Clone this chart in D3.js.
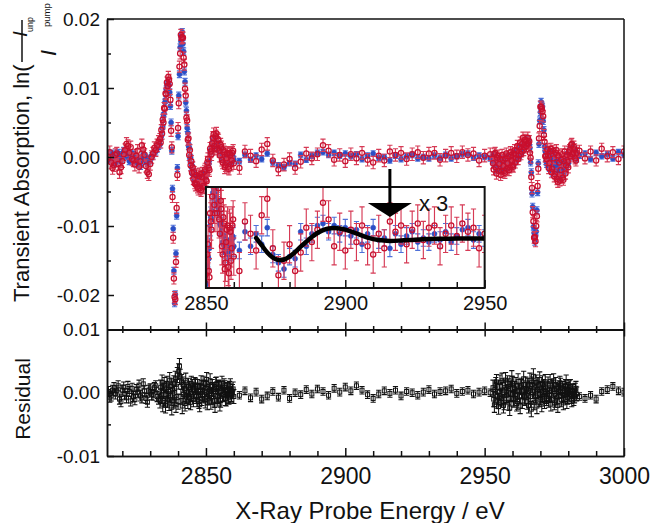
<!DOCTYPE html>
<html><head><meta charset="utf-8">
<script src="https://cdn.jsdelivr.net/npm/d3@7"></script>
<style>body{margin:0;background:#fff}svg{display:block;font-family:"Liberation Sans",Arial,sans-serif}</style>
</head><body><svg id="c" width="653" height="523"></svg>
<script>
// ---------- DATA (values in units of 1e-3) ----------
// energy sampling segments: [start eV, step eV, count]
const segments = [[2815,0.5,37],[2833.5,0.25,51],[2846.25,0.25,56],[2862,2,46],[2953,0.25,49],[2965.25,0.25,28],[2972.25,0.25,44],[2984,2,9]];
const blueValues = [
 0.3,-0.4,-0.2,0.5,-0.5,-0.9,0.2,0.6,-0.3,-0.7,0.3,0.9,0.8,0.1,0.2,-0.6,-0.4,0.5,0.3,-0.2,-0.8,-0.3,-1.0,-1.3,-0.4,0.4,0.1,-0.6,-0.9,-0.2,-0.5,0.1,0.2,0.6,0.8,1.2,1.6,
 1.8,2.9,3.0,4.2,4.5,5.9,6.3,7.9,8.3,9.8,9.9,10.5,10.8,10.4,9.4,7.4,5.0,0.9,-4.6,-10.4,-16.5,-21.2,-19.9,-14.0,-8.5,-1.6,3.0,8.9,12.0,15.9,16.8,17.6,18.1,16.4,15.3,12.4,10.9,7.9,6.7,4.2,3.5,1.6,1.4,-0.2,-0.1,-1.5,-1.2,-2.5,-2.2,-3.1,-2.8,
 -3.4,-3.0,-3.6,-3.8,-3.1,-3.3,-3.9,-4.0,-3.5,-3.3,-3.2,-3.7,-3.6,-2.7,-2.4,-2.8,-2.2,-1.3,-0.9,-1.0,-0.5,0.6,1.0,0.9,1.3,2.2,2.4,2.0,2.1,2.6,2.4,1.7,1.5,1.8,1.4,0.7,0.6,0.8,0.5,-0.2,-0.3,0.1,-0.5,-0.7,-0.3,-0.2,-0.6,-0.8,-0.5,-0.1,-0.3,-0.6,-0.4,0.1,0.0,-0.4,
 -0.6,0.3,-0.4,0.2,-0.3,0.5,-0.8,-1.2,-1.5,-0.9,-1.0,0.3,-0.4,0.2,0.6,0.7,0.3,0.6,0.2,0.5,0.1,0.4,-0.3,0.2,0.5,-0.1,0.0,-0.5,0.2,-0.3,0.1,0.3,-0.2,0.0,-0.2,0.2,-0.1,0.3,-0.2,0.1,0.4,0.5,-0.1,0.2,0.0,-0.2,
 0.2,-0.8,-1.0,0.1,-0.2,-1.9,-1.5,-0.2,-0.5,-1.2,-1.7,-0.9,-0.6,-0.3,-1.6,-1.9,-0.4,-0.7,-1.4,0.1,-0.3,-1.5,-1.2,-0.5,0.0,-1.0,-0.9,0.4,0.2,-1.2,-0.6,0.0,0.5,-0.6,-0.2,0.6,0.9,0.0,0.3,1.1,1.4,0.6,1.0,1.7,2.0,1.3,1.6,2.2,2.4,
 2.6,2.1,2.6,1.6,1.3,-0.8,-2.2,-5.3,-7.2,-10.1,-11.0,-12.3,-11.5,-10.8,-7.7,-5.1,-0.9,1.9,5.3,6.5,8.0,7.5,7.3,5.2,3.9,1.5,0.8,-0.6,
 -1.0,0.4,0.9,-0.5,-1.6,0.6,0.7,-1.2,-2.3,-0.3,0.2,-2.0,-1.5,-0.9,-0.6,-2.6,-2.2,-1.4,-0.3,-2.9,-3.1,-1.6,-0.8,-2.8,-2.4,-0.9,-1.1,-2.0,-1.6,-0.2,0.3,-0.9,-0.4,0.8,1.2,0.3,0.5,1.6,1.3,0.6,0.2,0.9,0.5,-0.2,
 0.2,0.5,-0.3,0.6,0.1,0.4,-0.2,0.7,0.3];
const redValues = [
 0.0,0.7,-0.8,-1.6,-1.2,0.3,0.5,-1.0,-2.2,-1.5,-0.6,0.4,1.0,1.9,1.6,0.6,1.4,-0.3,-0.5,-1.1,0.2,0.9,-1.4,-0.6,1.7,1.1,0.3,-1.3,-2.2,-2.5,-1.0,0.0,0.5,1.3,1.0,1.7,2.2,
 2.6,2.1,3.9,3.4,5.4,5.0,7.1,7.0,9.2,9.1,10.8,10.3,11.6,11.2,10.6,8.3,3.8,1.4,-5.8,-11.7,-17.6,-20.3,-20.6,-15.2,-7.4,-2.6,4.2,7.8,13.1,15.0,17.7,17.2,17.4,17.3,14.4,13.4,9.9,8.9,5.7,5.3,2.5,2.7,0.3,1.0,-1.2,-0.6,-2.3,-1.5,-3.2,-2.2,-3.8,
 -4.0,-2.6,-3.9,-4.3,-4.6,-2.8,-2.5,-4.5,-4.8,-2.9,-2.4,-4.2,-4.4,-2.1,-1.8,-3.3,-3.5,-0.8,-0.3,-1.6,-1.9,1.2,0.8,0.4,2.0,2.8,3.3,1.6,1.2,3.0,3.4,1.2,2.6,2.4,0.9,0.2,1.8,1.4,-0.4,-0.8,1.0,0.7,-1.5,-1.2,-0.2,0.4,0.6,-1.4,-1.7,0.5,0.3,-1.1,-0.5,0.6,0.9,-0.9,
 -1.6,0.8,0.2,-0.6,1.1,1.9,-0.5,-1.8,-1.1,-0.3,-1.6,-0.7,0.5,-0.2,0.4,1.7,0.9,-0.4,0.3,-0.6,0.4,-0.2,0.6,-0.4,-0.8,0.2,-0.5,0.8,0.3,0.6,-0.3,0.4,0.7,-0.1,0.5,0.6,-0.4,0.2,0.6,0.1,0.7,0.3,0.5,-0.5,0.2,0.4,
 -0.9,-1.8,0.4,0.6,-1.5,-2.4,-0.1,0.2,-2.0,-1.0,-0.3,-2.6,-2.1,0.3,-0.4,-1.3,-2.0,-2.3,-0.2,0.5,-1.7,-0.9,0.1,-1.9,-1.5,0.7,0.3,-0.6,-1.2,-1.4,0.5,1.0,-0.8,-0.2,0.9,1.6,-0.3,0.2,1.4,2.1,0.4,0.8,1.9,2.8,1.0,1.4,2.5,2.3,1.6,
 1.9,2.8,2.0,2.3,0.6,-0.1,-2.9,-4.5,-8.0,-9.3,-11.7,-11.6,-12.2,-10.0,-8.6,-4.2,-1.7,2.7,4.5,7.3,7.3,7.0,6.6,5.9,3.2,2.2,0.1,0.2,
 -0.3,1.1,0.2,-1.6,-0.9,0.8,1.2,-2.2,-1.7,0.9,-0.2,-2.8,-2.5,0.6,1.0,-3.2,-3.6,0.2,-0.8,-3.4,-1.9,-0.4,0.4,-3.0,-3.3,-0.6,0.8,-2.4,-1.2,0.3,-0.7,-1.5,0.7,1.0,0.1,1.7,1.9,0.4,0.6,1.5,1.1,-0.2,-0.5,0.6,
 0.9,-0.2,0.8,-0.5,1.2,0.1,0.7,-0.3,0.8];
const residualValues = [
 0.2,-0.7,-0.5,0.4,0.8,-0.2,0.3,1.1,-1.0,-1.4,0.4,0.9,-0.2,-0.8,1.0,0.2,-1.3,0.7,-0.6,-1.1,0.5,0.1,1.2,-0.5,-0.8,1.4,0.3,-0.9,-1.5,0.4,0.6,-0.3,-0.4,0.8,1.1,-0.6,-1.0,
 -1.2,0.8,-0.5,1.6,-1.8,0.3,1.2,-0.9,-2.0,0.6,1.4,-1.1,0.2,-1.6,2.0,-0.4,1.0,-2.3,0.5,-1.2,1.5,-0.8,2.2,-1.9,0.9,2.8,-1.4,3.4,4.2,2.5,-0.6,1.7,-2.1,1.3,-0.3,0.7,-1.7,1.9,-0.5,0.1,-1.3,1.1,-0.7,0.6,-1.5,1.4,-0.2,0.9,-1.0,0.3,1.2,
 1.2,-0.6,-1.1,1.0,0.3,-1.4,-1.9,0.4,1.6,-0.9,-0.4,1.5,0.9,-0.3,-1.3,0.8,2.1,-1.6,-0.8,0.2,0.4,1.9,-1.5,-0.7,1.0,0.5,0.2,-1.2,-2.0,1.3,1.4,-0.4,-0.6,0.9,0.7,-1.8,-1.2,0.6,1.5,-0.2,-0.3,1.1,0.8,-0.9,-1.0,0.4,0.5,-0.5,-0.7,0.7,1.1,-0.3,-0.4,0.2,0.6,-0.6,
 -0.4,0.3,-0.8,0.1,-1.0,-0.5,0.2,-0.7,0.4,-0.9,0.0,-0.3,0.5,-0.2,0.6,0.2,-0.4,0.7,0.1,0.9,0.3,1.1,0.4,-0.3,-0.9,-0.2,0.3,-0.1,0.4,-0.5,0.2,0.0,-0.4,0.1,0.5,-0.2,0.2,0.3,0.6,-0.1,0.2,0.4,-0.2,0.1,0.3,0.0,
 0.8,-1.0,-1.9,0.5,1.2,1.7,-0.6,-1.3,-2.2,0.2,1.6,-0.7,-0.9,1.9,0.4,-2.0,-1.5,0.8,2.0,-0.4,-0.3,1.5,1.0,-1.6,-2.4,-0.2,0.6,2.3,1.4,-0.9,-1.1,0.6,0.2,1.2,-1.7,-1.4,1.8,0.3,-0.5,-2.1,0.9,1.1,-1.3,0.4,2.2,-0.6,-0.8,1.3,0.5,
 -1.4,1.1,-2.0,0.7,1.9,-0.6,-2.6,1.3,0.3,2.6,-1.5,0.8,-0.4,1.6,-2.1,0.5,1.2,-1.0,2.1,-0.7,0.4,-1.8,1.5,-0.2,0.9,-1.3,1.7,-0.5,
 -0.9,0.6,1.4,-1.2,-0.3,1.8,-1.8,-0.4,0.6,0.9,1.9,-1.6,-1.2,1.3,0.4,-0.8,-2.0,0.2,0.8,1.5,1.2,-1.1,-0.5,0.7,-1.6,-0.3,0.3,1.0,1.7,-1.4,-0.7,0.5,-0.2,0.8,1.0,-0.6,-1.1,0.3,0.2,-0.9,-0.5,0.4,0.7,-0.2,
 -0.6,-0.9,-0.4,-1.0,0.2,0.5,1.0,0.3,0.1];
// error bar half-widths per segment
const blueErr = [0.5,0.5,0.5,0.4,0.5,0.5,0.5,0.4];
const redErr = [0.9,0.8,0.9,0.9,0.8,0.8,0.8,0.8];
const resErr = [0.8,1.2,1.1,0.6,1.2,1.2,1.1,0.6];
// fit curve shown in inset
const fitEnergy = [2868,2870,2872,2874,2876,2878,2880,2882,2884,2886,2888,2890,2892,2894,2896,2898,2900,2904,2908,2912,2916,2920,2925,2930,2935,2940,2945,2950];
const fitValues = [0,-0.35,-0.7,-0.95,-1.06,-1.04,-0.9,-0.68,-0.42,-0.18,0.05,0.24,0.38,0.46,0.48,0.46,0.4,0.22,0.02,-0.1,-0.14,-0.12,-0.08,-0.05,-0.04,-0.03,-0.02,-0.02];
const insetFactor = 3;
const arrowEnergy = 2916;
const xDomain = [2814.5, 3000];
const xMajor = [2850,2900,2950,3000];
const xMinor = [2820,2830,2840,2860,2870,2880,2890,2910,2920,2930,2940,2960,2970,2980,2990];
const mainYTicks = [-20,-10,0,10,20];
const mainYMinor = [-15,-5,5,15];
const resYTicks = [-10,0,10];
const resYMinor = [-5,5];
const insetXTicks = [2850,2900,2950];
const insetXMinor = [2860,2870,2880,2890,2910,2920,2930,2940];

// ---------- BUILD ----------
const energy = [], bE = [], rE = [], resE = [];
segments.forEach(([s, st, n], k) => {
  for (let i = 0; i < n; i++) { energy.push(+(s + i * st).toFixed(2)); bE.push(blueErr[k]); rE.push(redErr[k]); resE.push(resErr[k]); }
});
const blue = energy.map((e, i) => ({e, v: blueValues[i], err: bE[i]}));
const red = energy.map((e, i) => ({e, v: redValues[i], err: rE[i]}));
const resid = energy.map((e, i) => ({e, v: residualValues[i], err: resE[i]}));

const svg = d3.select("#c");
const x = d3.scaleLinear().domain(xDomain).range([107, 624]);
const yMain = d3.scaleLinear().domain([-25, 20]).range([329.5, 19]);
const yRes = d3.scaleLinear().domain([-10, 10]).range([456, 329.5]);
const yInset = d3.scaleLinear().domain([-7.25, 7.39]).range([288, 187]);
const fmt = v => (v / 1000).toFixed(2);

const defs = svg.append("defs");
defs.append("clipPath").attr("id", "cm").append("rect").attr("x", 107).attr("y", 19).attr("width", 517).attr("height", 310.5);
defs.append("clipPath").attr("id", "cr").append("rect").attr("x", 107).attr("y", 329.5).attr("width", 517).attr("height", 126.5);

function errPath(data, ys, f, cap) {
  let p = "";
  data.forEach(d => {
    const X = x(d.e), y1 = ys((d.v - d.err) * f), y2 = ys((d.v + d.err) * f);
    p += `M${X},${y1}V${y2}M${X - cap},${y1}h${2 * cap}M${X - cap},${y2}h${2 * cap}`;
  });
  return p;
}
function drawSeries(g, data, ys, f, kind) {
  if (kind === "blue") {
    g.append("path").attr("d", errPath(data, ys, f, 2.6)).attr("fill", "none").attr("stroke", "#4f70d8").attr("stroke-width", 1.1);
    g.selectAll(null).data(data).join("circle").attr("cx", d => x(d.e)).attr("cy", d => ys(d.v * f)).attr("r", 2.5)
      .attr("fill", "#2b4fc6").attr("stroke", "#2b4fc6").attr("stroke-width", 0.6);
  } else if (kind === "red") {
    g.append("path").attr("d", errPath(data, ys, f, 2.6)).attr("fill", "none").attr("stroke", "#d63a55").attr("stroke-width", 1.15);
    g.selectAll(null).data(data).join("circle").attr("cx", d => x(d.e)).attr("cy", d => ys(d.v * f)).attr("r", 2.6)
      .attr("fill", "none").attr("stroke", "#c80f2e").attr("stroke-width", 1.25);
  } else {
    g.append("path").attr("d", errPath(data, ys, f, 2.6)).attr("fill", "none").attr("stroke", "#111").attr("stroke-width", 1.05);
    g.selectAll(null).data(data).join("rect").attr("x", d => x(d.e) - 2).attr("y", d => ys(d.v * f) - 2).attr("width", 4).attr("height", 4)
      .attr("fill", "none").attr("stroke", "#111").attr("stroke-width", 1);
  }
}
// main data
const gm = svg.append("g").attr("clip-path", "url(#cm)");
drawSeries(gm, blue, yMain, 1, "blue");
drawSeries(gm, red, yMain, 1, "red");
// residual data
const gr = svg.append("g").attr("clip-path", "url(#cr)");
drawSeries(gr, resid, yRes, 1, "res");

// inset
const ix0 = x(2850), ix1 = x(2950);
defs.append("clipPath").attr("id", "ci").append("rect").attr("x", ix0).attr("y", 187).attr("width", ix1 - ix0).attr("height", 101);
svg.append("rect").attr("x", ix0).attr("y", 187).attr("width", ix1 - ix0).attr("height", 101).attr("fill", "#fff");
const gi = svg.append("g").attr("clip-path", "url(#ci)");
const inBlue = blue.filter(d => d.e >= 2849 && d.e <= 2951), inRed = red.filter(d => d.e >= 2849 && d.e <= 2951);
drawSeries(gi, inBlue, yInset, insetFactor, "blue");
drawSeries(gi, inRed, yInset, insetFactor, "red");
gi.append("path").datum(fitEnergy.map((e, i) => [e, fitValues[i]]))
  .attr("d", d3.line().x(d => x(d[0])).y(d => yInset(d[1] * insetFactor)).curve(d3.curveCatmullRom))
  .attr("fill", "none").attr("stroke", "#000").attr("stroke-width", 4.5).attr("stroke-linecap", "round");
svg.append("rect").attr("x", ix0).attr("y", 187).attr("width", ix1 - ix0).attr("height", 101).attr("fill", "none").attr("stroke", "#111").attr("stroke-width", 2);
function styleAxis(g, fs) {
  g.attr("font-family", null).attr("font-size", fs);
  g.selectAll("line,path").attr("stroke", "#111").attr("stroke-width", 1.5);
  g.selectAll("text").attr("fill", "#111");
}
const ia = svg.append("g").attr("transform", "translate(0,288)")
  .call(d3.axisBottom(x).tickValues(insetXTicks).tickFormat(d3.format("d")).tickSizeInner(-8).tickSizeOuter(0).tickPadding(8));
styleAxis(ia, 20); ia.select(".domain").remove();
const iam = svg.append("g").attr("transform", "translate(0,288)")
  .call(d3.axisBottom(x).tickValues(insetXMinor).tickFormat("").tickSizeInner(-6).tickSizeOuter(0));
styleAxis(iam, 20); iam.select(".domain").remove();
// arrow and label
const ax = x(arrowEnergy);
svg.append("line").attr("x1", ax).attr("x2", ax).attr("y1", 169).attr("y2", 207).attr("stroke", "#000").attr("stroke-width", 3);
svg.append("path").attr("d", `M${ax - 22},203L${ax + 22},203L${ax},217Z`).attr("fill", "#000");
svg.append("text").attr("x", ax + 29).attr("y", 211).attr("font-size", 22).attr("fill", "#111").text("x 3");

// frames
svg.append("line").attr("x1", 107).attr("x2", 624).attr("y1", 19).attr("y2", 19).attr("stroke", "#111").attr("stroke-width", 1.5);
svg.append("line").attr("x1", 624).attr("x2", 624).attr("y1", 19).attr("y2", 456).attr("stroke", "#111").attr("stroke-width", 1.5);

// main y axis
const ml = svg.append("g").attr("transform", "translate(107,0)")
  .call(d3.axisLeft(yMain).tickValues(mainYTicks).tickFormat(fmt).tickSizeInner(-7).tickSizeOuter(0).tickPadding(7));
styleAxis(ml, 19);
const mlm = svg.append("g").attr("transform", "translate(107,0)")
  .call(d3.axisLeft(yMain).tickValues(mainYMinor).tickFormat("").tickSizeInner(-4).tickSizeOuter(0));
styleAxis(mlm, 19);
// residual y axis
const rl = svg.append("g").attr("transform", "translate(107,0)")
  .call(d3.axisLeft(yRes).tickValues(resYTicks).tickFormat(fmt).tickSizeInner(-7).tickSizeOuter(0).tickPadding(7));
styleAxis(rl, 19);
const rlm = svg.append("g").attr("transform", "translate(107,0)")
  .call(d3.axisLeft(yRes).tickValues(resYMinor).tickFormat("").tickSizeInner(-4).tickSizeOuter(0));
styleAxis(rlm, 19);
// shared boundary x ticks
[[d3.axisBottom, xMajor, -7], [d3.axisBottom, xMinor, -3.5], [d3.axisTop, xMajor, -7], [d3.axisTop, xMinor, -3.5]].forEach(([fn, tv, s]) => {
  const g = svg.append("g").attr("transform", "translate(0,329.5)").call(fn(x).tickValues(tv).tickFormat("").tickSizeInner(s).tickSizeOuter(0));
  styleAxis(g, 10);
});
// bottom x axis
const bx = svg.append("g").attr("transform", "translate(0,456)")
  .call(d3.axisBottom(x).tickValues(xMajor).tickFormat(d3.format("d")).tickSizeInner(-8).tickSizeOuter(0).tickPadding(12));
styleAxis(bx, 23);
const bxm = svg.append("g").attr("transform", "translate(0,456)")
  .call(d3.axisBottom(x).tickValues(xMinor).tickFormat("").tickSizeInner(-5).tickSizeOuter(0));
styleAxis(bxm, 23);

// titles
svg.append("text").attr("x", 370).attr("y", 519).attr("text-anchor", "middle").attr("font-size", 24).attr("fill", "#111").text("X-Ray Probe Energy / eV");
svg.append("text").attr("transform", "translate(30,399) rotate(-90)").attr("text-anchor", "middle").attr("font-size", 21).attr("fill", "#111").text("Residual");
const yt = svg.append("g").attr("transform", "translate(29,0) rotate(-90)").attr("fill", "#111");
yt.append("text").attr("x", -302).attr("y", 0).attr("font-size", 22).text("Transient Absorption, ln(");
yt.append("line").attr("x1", -62).attr("x2", -20).attr("y1", -7).attr("y2", -7).attr("stroke", "#111").attr("stroke-width", 1.5);
yt.append("text").attr("x", -37).attr("y", -2).attr("font-size", 21).attr("font-style", "italic").text("I");
yt.append("text").attr("x", -32).attr("y", 4).attr("font-size", 9).text("unp");
yt.append("text").attr("x", -56).attr("y", 27).attr("font-size", 22).attr("font-style", "italic").text("I");
yt.append("text").attr("x", -27).attr("y", 21).attr("font-size", 9.5).text("pump");
</script></body></html>
